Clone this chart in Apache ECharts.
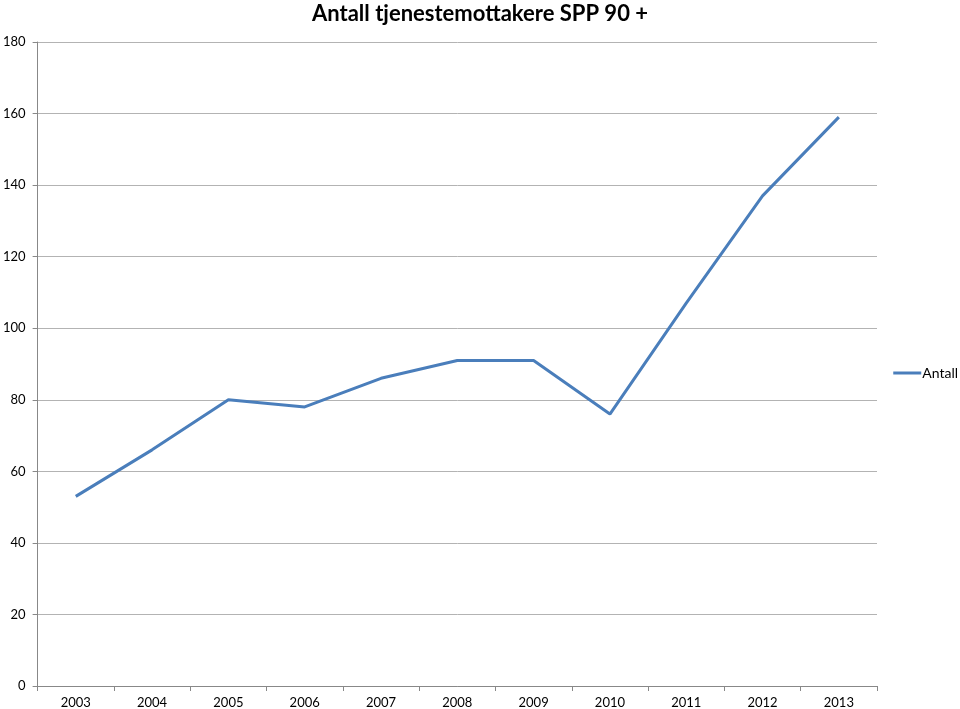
<!DOCTYPE html>
<html>
<head>
<meta charset="utf-8">
<script src="https://cdn.jsdelivr.net/npm/echarts@6/dist/echarts.min.js"></script>
<style>html,body{margin:0;padding:0;background:#fff}#c{width:960px;height:709px}</style>
</head>
<body>
<div id="c"></div>
<script>
const title = 'Antall tjenestemottakere SPP 90 +';
const categories = ['2003','2004','2005','2006','2007','2008','2009','2010','2011','2012','2013'];
const seriesName = 'Antall';
const values = [53, 66, 80, 78, 86, 91, 91, 76, 107, 137, 159];

const chart = echarts.init(document.getElementById('c'), null, {renderer: 'canvas'});
const font = 'Lato, "Open Sans", sans-serif';
chart.setOption({
  animation: false,
  backgroundColor: '#fff',
  title: {
    text: title, left: 'center', top: -2,
    textStyle: {fontFamily: font, fontSize: 22, fontWeight: 'bold', color: '#000'}
  },
  legend: {
    data: [seriesName], right: 2, top: 366, orient: 'vertical', padding: 0,
    itemWidth: 28, itemHeight: 3, itemGap: 4,
    icon: 'rect',
    textStyle: {fontFamily: font, fontSize: 14, color: '#000', padding: [0,0,0,-4]}
  },
  grid: {left: 34, right: 83, top: 42, bottom: 23, containLabel: false},
  xAxis: {
    type: 'category', data: categories, boundaryGap: true,
    axisLine: {lineStyle: {color: '#888', width: 1}},
    axisTick: {show: true, length: 5, lineStyle: {color: '#888'}},
    axisLabel: {fontFamily: font, fontSize: 13, color: '#000', margin: 10}
  },
  yAxis: {
    type: 'value', min: 0, max: 180, interval: 20,
    axisLine: {show: true, lineStyle: {color: '#888', width: 1}},
    axisTick: {show: true, length: 5, lineStyle: {color: '#888'}},
    axisLabel: {fontFamily: font, fontSize: 13, color: '#000', margin: 12},
    splitLine: {lineStyle: {color: '#b3b3b3', width: 1}}
  },
  series: [{
    name: seriesName, type: 'line', data: values,
    symbol: 'none', lineStyle: {color: '#4a7ebb', width: 3}, itemStyle: {color: '#4a7ebb'}
  }]
});
</script>
</body>
</html>
